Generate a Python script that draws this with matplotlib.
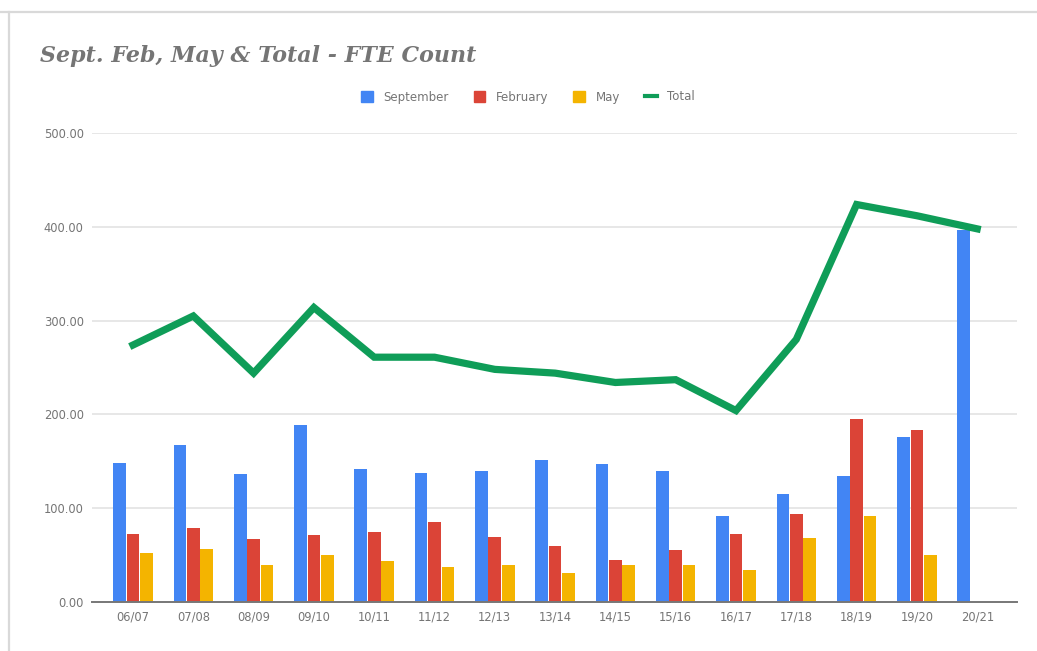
import numpy as np
import matplotlib
matplotlib.use("Agg")
import matplotlib.pyplot as plt
from matplotlib.lines import Line2D
from matplotlib.patches import Patch

categories = ["06/07", "07/08", "08/09", "09/10", "10/11", "11/12", "12/13", "13/14",
              "14/15", "15/16", "16/17", "17/18", "18/19", "19/20", "20/21"]
september = [148, 167, 136, 189, 142, 137, 140, 151, 147, 140, 92, 115, 134, 176, 397]
february = [72, 79, 67, 71, 74, 85, 69, 59, 45, 55, 72, 94, 195, 183, np.nan]
may = [52, 56, 39, 50, 43, 37, 39, 31, 39, 39, 34, 68, 91, 50, np.nan]
total = [274, 305, 244, 314, 261, 261, 248, 244, 234, 237, 204, 280, 424, 412, 398]
yticks = [0, 100, 200, 300, 400, 500]

BLUE = "#4285F4"
RED = "#DB4437"
YELLOW = "#F4B400"
GREEN = "#0F9D58"
GRAY = "#757575"

W, H = 1037, 651
fig = plt.figure(figsize=(W / 100, H / 100), dpi=100)
fig.patch.set_facecolor("white")

ax = fig.add_axes([92 / W, 1 - 601.7 / H, (1017 - 92) / W, (601.7 - 133.3) / H])
x = np.arange(len(categories))
bw = 0.21
off = 0.222
ax.bar(x - off, september, width=bw, color=BLUE, zorder=3)
ax.bar(x, february, width=bw, color=RED, zorder=3)
ax.bar(x + off, may, width=bw, color=YELLOW, zorder=3)
ax.plot(x, total, color=GREEN, linewidth=5.2, solid_joinstyle="miter", zorder=4)

ax.set_xlim(-0.68, 14.66)
ax.set_ylim(0, 500)
ax.set_yticks(yticks)
ax.set_yticklabels([f"{v:.2f}" for v in yticks])
ax.set_xticks(x)
ax.set_xticklabels(categories)
ax.tick_params(axis="both", length=0, labelsize=8.3, labelcolor=GRAY)
ax.tick_params(axis="y", pad=6)
ax.tick_params(axis="x", pad=6)
ax.grid(axis="y", color="#e3e3e3", linewidth=1.2, zorder=0)
for s in ["top", "right", "left"]:
    ax.spines[s].set_visible(False)
ax.spines["bottom"].set_color("#777777")
ax.spines["bottom"].set_linewidth(1.4)
ax.spines["bottom"].set_zorder(5)

fig.text(40 / W, 1 - 56 / H, "Sept. Feb, May & Total - FTE Count", fontsize=15.9,
         fontweight="bold", fontstyle="italic", family="DejaVu Serif",
         color=GRAY, va="center", ha="left")

handles = [Patch(color=BLUE, label="September"),
           Patch(color=RED, label="February"),
           Patch(color=YELLOW, label="May"),
           Line2D([0], [0], color=GREEN, linewidth=3, label="Total")]
fig.legend(handles=handles, loc="center", bbox_to_anchor=(528 / W, 1 - 97 / H), ncol=4,
           frameon=False, fontsize=8.5, labelcolor=GRAY, handlelength=1.0,
           handleheight=1.0, handletextpad=0.9, columnspacing=2.1)

# outer screenshot border (top and left)
fig.add_artist(Line2D([0, 1], [1 - 11.5 / H, 1 - 11.5 / H], transform=fig.transFigure,
                      color="#d9d9d9", linewidth=1.6))
fig.add_artist(Line2D([8.5 / W, 8.5 / W], [0, 1 - 11.5 / H], transform=fig.transFigure,
                      color="#d9d9d9", linewidth=1.6))

fig.savefig("out.png", dpi=100, facecolor="white")
